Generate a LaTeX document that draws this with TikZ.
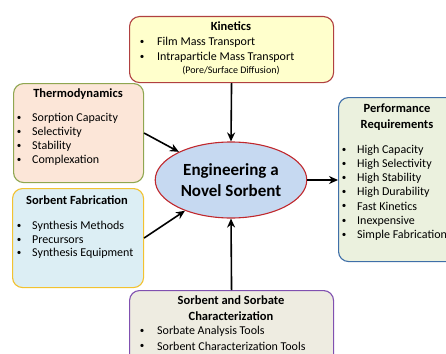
\documentclass[tikz,border=0pt]{standalone}
\usepackage{fontspec}
\setmainfont{Carlito}
\usetikzlibrary{arrows.meta,shapes.geometric}

\definecolor{kinfill}{HTML}{FFFFCC}
\definecolor{kinline}{HTML}{B04040}
\definecolor{thfill}{HTML}{FCE6D8}
\definecolor{thline}{HTML}{8FA650}
\definecolor{fabfill}{HTML}{DCEEF4}
\definecolor{fabline}{HTML}{F2C230}
\definecolor{perffill}{HTML}{EBF1DE}
\definecolor{perfline}{HTML}{3F6FA8}
\definecolor{charfill}{HTML}{EEECE1}
\definecolor{charline}{HTML}{8050B0}
\definecolor{corefill}{HTML}{C6D9F1}
\definecolor{coreline}{HTML}{C0282D}

\begin{document}
\begin{tikzpicture}[x=1pt, y=-1pt, font=\fontsize{12}{14}\selectfont,
  box/.style={draw, rounded corners=10pt, line width=1.1pt, anchor=north west, inner sep=0pt},
  title/.style={font=\fontsize{12.5}{15.5}\selectfont\bfseries, align=center, inner sep=0pt},
  item/.style={anchor=west, inner sep=0pt},
  dot/.style={font=\fontsize{9}{10}\selectfont, inner sep=0pt},
  link/.style={-{Stealth[length=9pt,width=8pt]}, line width=1.6pt}]
\useasboundingbox (0,0) rectangle (446,353);

% --- Boxes ---
\node[box, fill=kinfill, draw=kinline, minimum width=204pt, minimum height=66pt] (kin) at (129,16) {};
\node[box, fill=thfill, draw=thline, minimum width=130pt, minimum height=99pt] (thermo) at (13,83) {};
\node[box, fill=fabfill, draw=fabline, minimum width=131pt, minimum height=99pt] (fab) at (12,188) {};
\node[box, fill=perffill, draw=perfline, minimum width=130pt, minimum height=164pt] (perf) at (338,97) {};
\node[box, fill=charfill, draw=charline, minimum width=204pt, minimum height=80pt] (char) at (129,290) {};

% --- Centre ---
\node[ellipse, draw=coreline, fill=corefill, line width=1.1pt, minimum width=130pt, minimum height=76pt,
  align=center, font=\fontsize{17}{21}\selectfont\bfseries] (core) at (231,180) {Engineering a\\Novel Sorbent};

% --- Kinetics text ---
\node[title] (kt) at (231,26) {Kinetics};
\node[dot] (k1b) at (142,42) {\textbullet};
\node[item] (k1) at (157,42) {Film Mass Transport};
\node[dot] (k2b) at (142,57) {\textbullet};
\node[item] (k2) at (157,57) {Intraparticle Mass Transport};
\node[font=\fontsize{10}{12}\selectfont] (k3) at (231,71) {(Pore/Surface Diffusion)};

% --- Thermodynamics text ---
\node[title] (tt) at (78,94) {Thermodynamics};
\node[dot] (t1b) at (19,118) {\textbullet};
\node[item] (t1) at (32,118) {Sorption Capacity};
\node[dot] (t2b) at (19,132) {\textbullet};
\node[item] (t2) at (32,132) {Selectivity};
\node[dot] (t3b) at (19,146) {\textbullet};
\node[item] (t3) at (32,146) {Stability};
\node[dot] (t4b) at (19,160) {\textbullet};
\node[item] (t4) at (32,160) {Complexation};

% --- Sorbent Fabrication text ---
\node[title] (ft) at (77,200) {Sorbent Fabrication};
\node[dot] (f1b) at (19,226) {\textbullet};
\node[item] (f1) at (32,226) {Synthesis Methods};
\node[dot] (f2b) at (19,240) {\textbullet};
\node[item] (f2) at (32,240) {Precursors};
\node[dot] (f3b) at (19,253) {\textbullet};
\node[item] (f3) at (32,253) {Synthesis Equipment};

% --- Performance text ---
\node[title] (pt) at (397,117) {Performance\\Requirements};
\node[dot] (p1b) at (344,150) {\textbullet};
\node[item] (p1) at (357,150) {High Capacity};
\node[dot] (p2b) at (344,164) {\textbullet};
\node[item] (p2) at (357,164) {High Selectivity};
\node[dot] (p3b) at (344,178) {\textbullet};
\node[item] (p3) at (357,178) {High Stability};
\node[dot] (p4b) at (344,192) {\textbullet};
\node[item] (p4) at (357,192) {High Durability};
\node[dot] (p5b) at (344,206) {\textbullet};
\node[item] (p5) at (357,206) {Fast Kinetics};
\node[dot] (p6b) at (344,221) {\textbullet};
\node[item] (p6) at (357,221) {Inexpensive};
\node[dot] (p7b) at (344,235) {\textbullet};
\node[item] (p7) at (357,235) {Simple Fabrication};

% --- Characterization text ---
\node[title] (ct) at (231,308) {Sorbent and Sorbate\\Characterization};
\node[dot] (c1b) at (142,331) {\textbullet};
\node[item] (c1) at (157,331) {Sorbate Analysis Tools};
\node[dot] (c2b) at (142,346) {\textbullet};
\node[item] (c2) at (157,346) {Sorbent Characterization Tools};

% --- Arrows ---
\draw[link] (kin.south) -- (core.north);
\draw[link] (thermo.east) -- (core);
\draw[link] (fab.east) -- (core);
\draw[link] (char.north) -- (core.south);
\draw[link] (core.east) -- (core.east -| perf.west);

\end{tikzpicture}
\end{document}
